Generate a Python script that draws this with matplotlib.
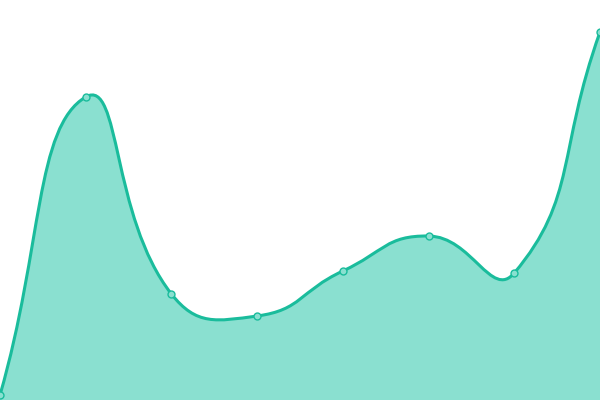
import numpy as np
import matplotlib.pyplot as plt
from matplotlib.path import Path
from matplotlib.patches import PathPatch

# values (axis runs 0..400, no visible ticks)
categories = ["A", "B", "C", "D", "E", "F", "G", "H"]
values = [5, 303, 106, 84, 129, 164, 127, 368]

LINE = "#1abc9c"
FILL = "#8ae0d0"
SMOOTH = 0.5


def smooth_controls(pts, smooth=SMOOTH):
    """echarts-like bezier control points, computed in display space"""
    n = len(pts)
    cps = []
    for i in range(n):
        cur = pts[i]
        prev = pts[i - 1] if i > 0 else cur
        nxt = pts[i + 1] if i < n - 1 else cur
        v = nxt - prev
        d0 = np.hypot(*(cur - prev))
        d1 = np.hypot(*(nxt - cur))
        tot = d0 + d1
        r = d1 / tot if tot > 0 else 0.5
        cp_in = cur - v * smooth * (1 - r)
        cp_out = cur + v * smooth * r
        cps.append((cp_in, cp_out))
    return cps


fig = plt.figure(figsize=(6, 4), dpi=100)
ax = fig.add_axes([0, 0, 1, 1])
x = np.arange(len(categories))
ax.set_xlim(0, len(categories) - 1)
ax.set_ylim(0, 400)
ax.axis("off")

disp = ax.transData.transform(np.column_stack([x, values]))
cps = smooth_controls(disp)
inv = ax.transData.inverted()

verts = [disp[0]]
codes = [Path.MOVETO]
for i in range(len(disp) - 1):
    verts += [cps[i][1], cps[i + 1][0], disp[i + 1]]
    codes += [Path.CURVE4] * 3
verts = inv.transform(np.array(verts))

line_path = Path(verts, codes)
fill_verts = np.vstack([verts, [[x[-1], 0], [x[0], 0], verts[0]]])
fill_codes = codes + [Path.LINETO, Path.LINETO, Path.CLOSEPOLY]
ax.add_patch(PathPatch(Path(fill_verts, fill_codes), facecolor=FILL,
                       edgecolor="none", zorder=1))
ax.add_patch(PathPatch(line_path, facecolor="none", edgecolor=LINE,
                       lw=2.2, zorder=2))
ax.plot(x, values, "o", ms=5, mfc=FILL, mec=LINE, mew=1, zorder=3,
        clip_on=False)

fig.savefig("out.png", dpi=100)
